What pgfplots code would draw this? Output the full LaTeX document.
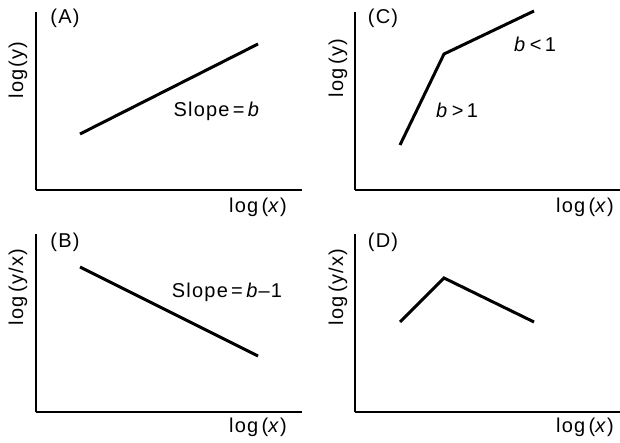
\documentclass[border=0pt]{standalone}
\usepackage{pgfplots}
\pgfplotsset{compat=1.18}
\usepackage{fontspec}
\setmainfont{Liberation Sans}[LetterSpace=6]
\newcommand{\lab}{\fontsize{20}{24}\selectfont}
\pgfplotsset{panel/.style={scale only axis, width=266pt, height=178pt,
  xmin=0, xmax=266, ymin=0, ymax=178,
  axis x line=bottom, axis y line=left,
  axis line style={-, line width=1.6pt, black},
  xtick=\empty, ytick=\empty, clip=false, anchor=south west},
  curve/.style={black, line width=3pt, line join=miter, no marks}}
\begin{document}
\begin{tikzpicture}
\useasboundingbox (0,0) rectangle (620pt,-443pt);
% Panel A
\begin{axis}[panel, at={(36pt,-190pt)}]
\addplot[curve] coordinates {(44,56) (222,146)};
\node[font=\lab] at (axis cs:29,172) {(A)};
\node[font=\lab] at (axis cs:181,79) {Slope\,=\,\textit{b}};
\node[font=\lab, rotate=90] at (axis cs:-18,120) {log(y)};
\node[font=\lab] at (axis cs:222,-17) {log\,(\textit{x})};
\end{axis}
% Panel C
\begin{axis}[panel, width=265pt, xmax=265, at={(355pt,-190pt)}]
\addplot[curve] coordinates {(45,45) (89,136) (179,179)};
\node[font=\lab] at (axis cs:28,172) {(C)};
\node[font=\lab] at (axis cs:102,80) {\textit{b}\,>\,1};
\node[font=\lab] at (axis cs:180,146) {\textit{b}\,<\,1};
\node[font=\lab, rotate=90] at (axis cs:-17,122) {log\,(y)};
\node[font=\lab] at (axis cs:230,-17) {log\,(\textit{x})};
\end{axis}
% Panel B
\begin{axis}[panel, at={(36pt,-412pt)}]
\addplot[curve] coordinates {(44,145) (222,56)};
\node[font=\lab] at (axis cs:29,170) {(B)};
\node[font=\lab] at (axis cs:191,120) {Slope\,=\,\textit{b}–1};
\node[font=\lab, rotate=90] at (axis cs:-18,125) {log\,(y/x)};
\node[font=\lab] at (axis cs:222,-15) {log\,(\textit{x})};
\end{axis}
% Panel D
\begin{axis}[panel, width=265pt, xmax=265, at={(355pt,-412pt)}]
\addplot[curve] coordinates {(45,90) (89,134) (179,90)};
\node[font=\lab] at (axis cs:28,170) {(D)};
\node[font=\lab, rotate=90] at (axis cs:-17,125) {log\,(y/x)};
\node[font=\lab] at (axis cs:230,-15) {log\,(\textit{x})};
\end{axis}
\end{tikzpicture}
\end{document}
